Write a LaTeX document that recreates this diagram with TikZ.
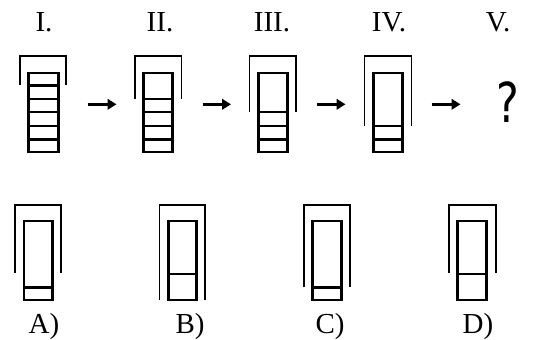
\documentclass[tikz,border=0pt]{standalone}
\usepackage{fontspec}
\setmainfont{Liberation Serif}
\newfontfamily\qfont{DejaVu Sans}
\usetikzlibrary{arrows.meta}
\tikzset{
  outerline/.style={line width=1.8pt, line cap=butt, line join=miter},
  innerline/.style={line width=2.8pt, line join=miter},
  steparrow/.style={line width=3.2pt, -{Triangle[length=9pt,width=10.5pt]}},
  lbl/.style={font=\fontsize{29}{30}\selectfont, anchor=base, inner sep=0pt},
}
\begin{document}
\begin{tikzpicture}[x=1pt,y=-1pt]
\useasboundingbox (0,0) rectangle (533,340);
% ---------- top row ----------
% I
\draw[outerline] (20,85) -- (20,56) -- (66,56) -- (66,85);
\draw[innerline] (28.5,73) rectangle (58.5,152);
\foreach \y in {85.5,99,112,126,139.5} \draw[innerline] (28.5,\y) -- (58.5,\y);
% II
\draw[outerline] (135,99) -- (135,56) -- (181.5,56) -- (181.5,99);
\draw[innerline] (143.5,73) rectangle (172.5,152);
\foreach \y in {99,112,126,139.5} \draw[innerline] (143.5,\y) -- (172.5,\y);
% III
\draw[outerline] (249.5,112) -- (249.5,56) -- (296,56) -- (296,112);
\draw[innerline] (258.5,73) rectangle (287.5,152);
\foreach \y in {112,126,139.5} \draw[innerline] (258.5,\y) -- (287.5,\y);
% IV
\draw[outerline] (364.5,125.5) -- (364.5,56) -- (411.5,56) -- (411.5,125.5);
\draw[innerline] (373.5,73) rectangle (402.5,152);
\foreach \y in {126,139.5} \draw[innerline] (373.5,\y) -- (402.5,\y);
% arrows
\coordinate (a1s) at (87.5,104.3); \coordinate (a1e) at (116.5,104.3);
\coordinate (a2s) at (202.5,104.3); \coordinate (a2e) at (231,104.3);
\coordinate (a3s) at (317,104.3); \coordinate (a3e) at (345.5,104.3);
\coordinate (a4s) at (431.5,104.3); \coordinate (a4e) at (460.5,104.3);
\draw[steparrow] (a1s) -- (a1e);
\draw[steparrow] (a2s) -- (a2e);
\draw[steparrow] (a3s) -- (a3e);
\draw[steparrow] (a4s) -- (a4e);
\node[font=\qfont\fontsize{55}{55}\selectfont, anchor=base, inner sep=0pt, xscale=0.78] (q) at (507.5,122) {?};
% labels
\node[lbl] (l1) at (44,31.5) {I.};
\node[lbl] (l2) at (160,31.5) {II.};
\node[lbl] (l3) at (272,31.5) {III.};
\node[lbl] (l4) at (389,31.5) {IV.};
\node[lbl] (l5) at (498,31.5) {V.};
% ---------- bottom row ----------
% A
\draw[outerline] (15,273) -- (15,205) -- (61,205) -- (61,273);
\draw[innerline] (24,221) rectangle (52.7,300);
\draw[innerline] (24,287.5) -- (52.7,287.5);
% B
\draw[outerline] (159.5,300) -- (159.5,205) -- (205,205) -- (205,300);
\draw[innerline] (168.5,221) rectangle (196.7,300);
\draw[innerline] (168.5,274) -- (196.7,274);
% C
\draw[outerline] (304,287) -- (304,205) -- (350,205) -- (350,287);
\draw[innerline] (312.7,221) rectangle (341.7,300);
\draw[innerline] (312.7,287.5) -- (341.7,287.5);
% D
\draw[outerline] (449,273) -- (449,205) -- (495.7,205) -- (495.7,273);
\draw[innerline] (457.3,221) rectangle (486.7,300);
\draw[innerline] (457.3,274) -- (486.7,274);
% option labels
\node[lbl] (la) at (44,333) {A)};
\node[lbl] (lb) at (190,333) {B)};
\node[lbl] (lc) at (330,333) {C)};
\node[lbl] (ld) at (478,333) {D)};
\end{tikzpicture}
\end{document}
